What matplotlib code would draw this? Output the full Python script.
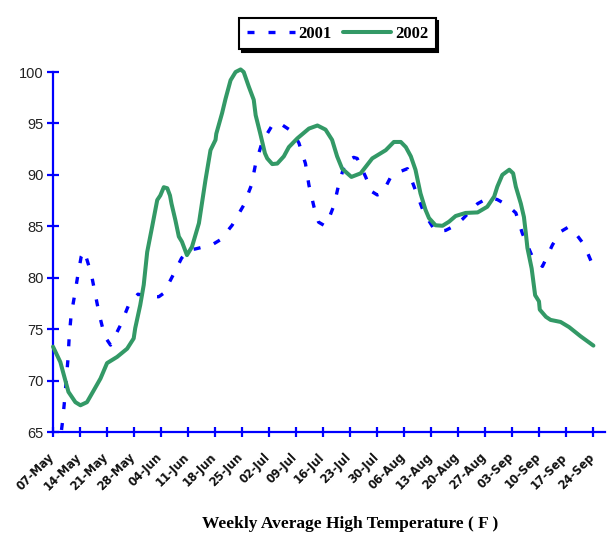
import matplotlib
matplotlib.use("Agg")
import matplotlib.pyplot as plt
from matplotlib.transforms import ScaledTranslation

# x tick labels, one per week (day offsets from 07-May)
week_labels = ["07-May", "14-May", "21-May", "28-May", "04-Jun", "11-Jun", "18-Jun",
               "25-Jun", "02-Jul", "09-Jul", "16-Jul", "23-Jul", "30-Jul", "06-Aug",
               "13-Aug", "20-Aug", "27-Aug", "03-Sep", "10-Sep", "17-Sep", "24-Sep"]
week_days = [7 * i for i in range(len(week_labels))]

# 2001 series (days after 07-May, temperature F)
days_2001 = [2.2, 2.5, 3.0, 3.9, 4.2, 4.7, 5.6, 6.5, 7.3, 8.1, 9.9, 11.0, 12.0, 13.4,
             14.9, 17.5, 19.6, 22.0, 24.7, 27.4, 28.7, 31.3, 33.3, 35.2, 36.9, 41.2,
             43.4, 46.4, 49.4, 51.4, 52.5, 54.2, 56.6, 58.4, 62.0, 63.7, 65.4, 66.3,
             67.6, 68.8, 70.4, 71.0, 72.8, 74.1, 75.8, 77.9, 78.8, 81.0, 82.5, 84.0,
             85.3, 87.5, 88.8, 91.8, 93.9, 96.1, 99.1, 101.7, 104.3, 106.1, 110.0,
             112.9, 115.1, 117.7, 119.9, 121.6, 124.0, 126.8, 129.4, 131.6, 133.4,
             134.6, 137.6, 139.8]
temp_2001 = [65.2, 66.1, 68.1, 72.2, 74.3, 76.4, 78.3, 80.4, 82.05, 82.6, 80.4, 78.3,
             76.4, 74.3, 73.45, 75.4, 77.35, 78.4, 78.2, 78.15, 78.5, 80.4, 81.9, 82.7,
             82.8, 83.2, 83.7, 85.1, 87.05, 89.0, 91.1, 93.2, 94.7, 95.1, 94.2, 93.1,
             91.1, 89.0, 86.9, 85.4, 85.05, 85.3, 87.05, 89.2, 91.3, 91.7, 91.6, 89.8,
             88.4, 88.05, 88.2, 89.8, 90.15, 90.6, 88.5, 86.3, 84.5, 84.6, 85.1, 85.7,
             87.2, 87.8, 87.6, 87.05, 86.3, 84.3, 82.2, 81.1, 83.2, 84.5, 84.9, 84.7,
             83.2, 81.25]

# 2002 series
days_2002 = [0.0, 1.9, 4.0, 5.8, 7.1, 8.8, 10.1, 12.3, 14.0, 16.6, 19.2, 20.9, 21.3,
             22.6, 23.5, 24.4, 25.7, 27.0, 27.8, 28.7, 29.6, 30.3, 30.7, 31.7, 32.6,
             33.4, 34.7, 36.0, 37.8, 39.5, 40.8, 42.1, 42.3, 43.8, 44.7, 46.0, 47.3,
             48.6, 49.4, 50.7, 52.0, 52.5, 53.7, 54.9, 55.5, 56.8, 58.1, 59.8, 61.1,
             63.3, 66.3, 68.5, 70.6, 72.3, 73.6, 74.9, 77.3, 79.7, 82.7, 86.2, 88.3,
             90.1, 91.4, 92.7, 93.9, 95.2, 96.5, 97.4, 99.1, 100.9, 102.6, 104.3, 106.9,
             110.0, 112.5, 114.3, 115.1, 116.4, 118.2, 119.2, 119.9, 121.2, 122.0, 122.5,
             122.9, 124.0, 124.9, 125.9, 126.1, 127.7, 128.9, 131.5, 133.7, 136.7, 140.0]
temp_2002 = [73.3, 71.8, 68.9, 67.9, 67.6, 67.9, 68.75, 70.2, 71.7, 72.3, 73.1, 74.1,
             75.1, 77.35, 79.3, 82.5, 85.0, 87.55, 88.0, 88.8, 88.7, 88.0, 87.2, 85.6,
             84.0, 83.5, 82.2, 83.0, 85.3, 89.5, 92.4, 93.4, 94.0, 96.0, 97.4, 99.2,
             100.0, 100.25, 100.0, 98.6, 97.3, 95.8, 94.0, 92.1, 91.6, 91.05, 91.1, 91.8,
             92.7, 93.55, 94.5, 94.8, 94.4, 93.4, 91.8, 90.6, 89.8, 90.15, 91.6, 92.4,
             93.2, 93.2, 92.7, 91.8, 90.5, 88.2, 86.6, 85.8, 85.1, 85.05, 85.45, 86.0,
             86.3, 86.35, 86.9, 87.9, 88.85, 90.0, 90.5, 90.15, 88.85, 87.2, 85.9, 84.3,
             82.9, 80.9, 78.3, 77.7, 76.9, 76.2, 75.9, 75.7, 75.2, 74.3, 73.4]

y_ticks = [65, 70, 75, 80, 85, 90, 95, 100]

axis_blue = "#0000FF"
green = "#339966"

fig = plt.figure(figsize=(6.10, 5.37), dpi=100)
ax = fig.add_axes([0.0869, 0.1955, 0.9049, 0.6704])

ax.plot(days_2001, temp_2001, color=axis_blue, lw=2.4, dashes=(2.1, 4.2),
        dash_capstyle="butt", label="2001", zorder=3, clip_on=False)
ax.plot(days_2002, temp_2002, color=green, lw=2.9, solid_capstyle="round",
        label="2002", zorder=4, clip_on=False)

ax.set_xlim(0, 143)
ax.set_ylim(65, 100)

# only left / bottom axis, drawn in blue
for side in ["top", "right"]:
    ax.spines[side].set_visible(False)
for side in ["left", "bottom"]:
    ax.spines[side].set_color(axis_blue)
    ax.spines[side].set_linewidth(1.6)

ax.set_yticks(y_ticks)
ax.set_yticklabels([str(v) for v in y_ticks], fontsize=10.5, color="#222222",
                   family="Liberation Sans")
ax.tick_params(axis="y", direction="inout", length=8, width=1.6, color=axis_blue, pad=3)

ax.set_xticks(week_days)
ax.set_xticklabels(week_labels, rotation=45, ha="right", va="top",
                   rotation_mode="anchor", fontsize=8.3, fontweight="bold",
                   family="DejaVu Sans", color="#111111")
ax.tick_params(axis="x", direction="inout", length=6.5, width=1.6, color=axis_blue, pad=10)
# nudge the date labels a little to the left, like the original
shift = ScaledTranslation(-4 / 72, 0, fig.dpi_scale_trans)
for lbl in ax.get_xticklabels():
    lbl.set_transform(lbl.get_transform() + shift)

leg = ax.legend(loc="upper center", bbox_to_anchor=(0.515, 1.172), ncol=2,
                frameon=True, fancybox=False, handlelength=2.9, handletextpad=0.2,
                columnspacing=0.7, borderpad=0.45,
                prop={"family": "Liberation Serif", "weight": "bold", "size": 12},
                shadow={"color": "black", "alpha": 1.0})
leg.get_frame().set_edgecolor("black")
leg.get_frame().set_linewidth(1.5)

fig.text(0.574, 0.024, "Weekly Average High Temperature ( F )", ha="center",
         va="center", fontsize=12.5, fontweight="bold", family="Liberation Serif")

fig.savefig("out.png", dpi=100)
